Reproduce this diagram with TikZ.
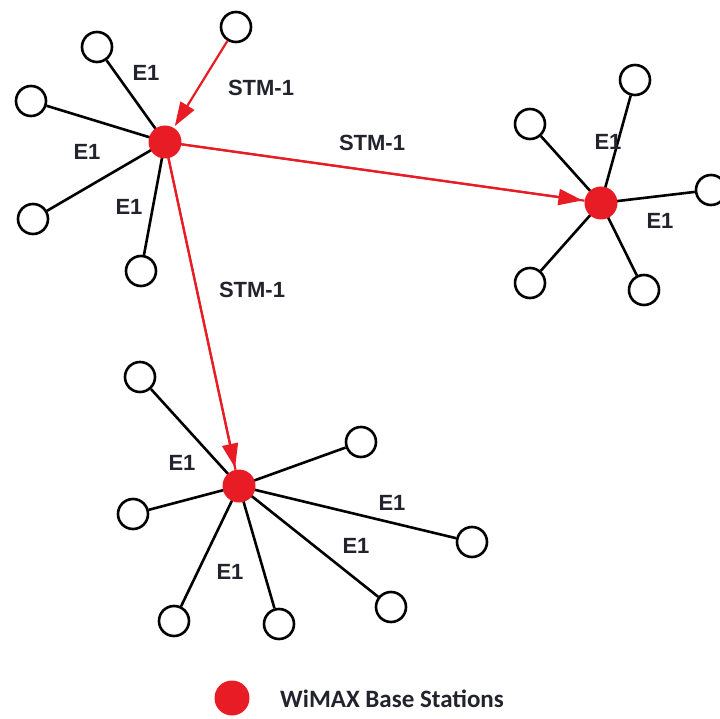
\documentclass[tikz,border=0pt]{standalone}
\usepackage{fontspec}
\setmainfont{Liberation Sans}
\newfontfamily\legfont{Carlito}
\usetikzlibrary{arrows.meta}
\definecolor{wred}{RGB}{232,28,36}
\definecolor{ink}{RGB}{35,35,45}
\pgfdeclarelayer{background}
\pgfsetlayers{background,main}
\begin{document}
\begin{tikzpicture}[x=1pt,y=-1pt,
 hub/.style={circle,fill=wred,minimum size=33pt,inner sep=0pt},
 leaf/.style={circle,draw=black,line width=2.6pt,minimum size=30pt,inner sep=0pt},
 eone/.style={line width=2.6pt,black},
 stm/.style={line width=2.2pt,wred,shorten >=2pt,-{Triangle[length=24pt,width=16pt]}},
 lbl/.style={text=ink,font=\fontsize{22}{22}\selectfont\bfseries,inner sep=0pt}
]
\useasboundingbox (0,0) rectangle (720,719);
% hubs
\node[hub] (hA) at (165,142) {};
\node[hub] (hB) at (601,203) {};
\node[hub] (hC) at (239,486) {};
% leaves A
\node[leaf] (a0) at (236,27) {};
\node[leaf] (a1) at (97,47) {};
\node[leaf] (a2) at (31,101) {};
\node[leaf] (a3) at (33,219) {};
\node[leaf] (a4) at (141,271) {};
% leaves B
\node[leaf] (b1) at (635,80) {};
\node[leaf] (b2) at (530,124) {};
\node[leaf] (b3) at (711,190) {};
\node[leaf] (b4) at (530,283) {};
\node[leaf] (b5) at (644,290) {};
% leaves C
\node[leaf] (c1) at (140,377) {};
\node[leaf] (c2) at (361,442) {};
\node[leaf] (c3) at (133,514) {};
\node[leaf] (c4) at (472,542) {};
\node[leaf] (c5) at (391,607) {};
\node[leaf] (c6) at (174,621) {};
\node[leaf] (c7) at (279,624) {};
\begin{pgfonlayer}{background}
\foreach \l in {a1,a2,a3,a4} \draw[eone] (hA.center) -- (\l);
\foreach \l in {b1,b2,b3,b4,b5} \draw[eone] (hB.center) -- (\l);
\foreach \l in {c1,c2,c3,c4,c5,c6,c7} \draw[eone] (hC.center) -- (\l);
\draw[line width=2.2pt,wred] (hA.center) -- (hB);
\draw[line width=2.2pt,wred] (hA.center) -- (hC);
\end{pgfonlayer}
\draw[stm] (a0) -- (hA);
\draw[stm] (hA) -- (hB);
\draw[stm] (hA) -- (hC);
% labels
\node[lbl] (l1) at (146,73) {E1};
\node[lbl] (l2) at (261,88) {STM-1};
\node[lbl] (l3) at (87,152) {E1};
\node[lbl] (l4) at (129,207) {E1};
\node[lbl] (l5) at (372,143) {STM-1};
\node[lbl] (l6) at (252,290) {STM-1};
\node[lbl] (l7) at (608,142) {E1};
\node[lbl] (l8) at (660,221) {E1};
\node[lbl] (l9) at (182,463) {E1};
\node[lbl] (l10) at (392,503) {E1};
\node[lbl] (l11) at (356,546) {E1};
\node[lbl] (l12) at (230,572) {E1};
% legend
\node[hub,minimum size=35pt] (leg) at (232,698) {};
\node[anchor=west,inner sep=0pt,text=ink,font=\legfont\fontsize{25}{25}\selectfont\bfseries] (legtxt) at (280,699) {WiMAX Base Stations};
\end{tikzpicture}
\end{document}
